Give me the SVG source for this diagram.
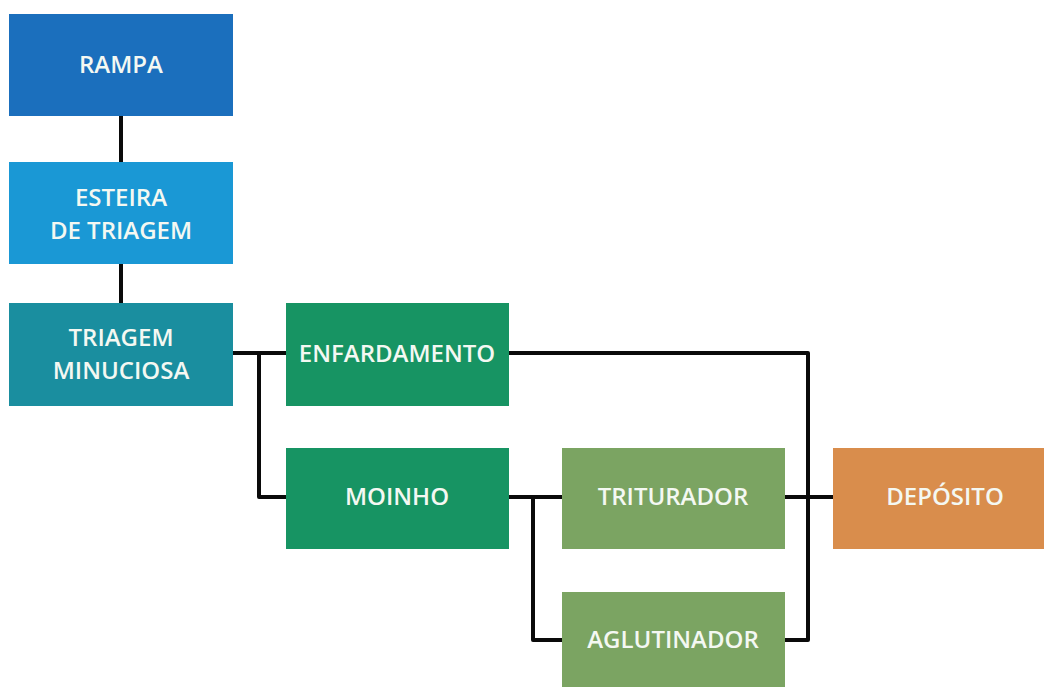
<svg xmlns="http://www.w3.org/2000/svg" width="1044" height="687" viewBox="0 0 1044 687">
<style>
.lbl{font-family:"Open Sans","Noto Sans","Liberation Sans",sans-serif;font-weight:600;font-size:24px;fill:#f4f8f2;text-anchor:middle}
.con{fill:none;stroke:#0a0a0a;stroke-width:4;stroke-linejoin:round}
</style>
<rect width="1044" height="687" fill="#ffffff"/>
<g id="connectors">
<path class="con" d="M121 116V162M121 264V303"/>
<path class="con" d="M233 353H286M259 353V497H286"/>
<path class="con" d="M509 353H808V640H785"/>
<path class="con" d="M509 497H562M533 497V640H562"/>
<path class="con" d="M785 497H833"/>
</g>
<g id="rampa"><rect x="9" y="14" width="224" height="102" fill="#1b6fbd"/><text class="lbl" x="121" y="73">RAMPA</text></g>
<g id="esteira"><rect x="9" y="162" width="224" height="102" fill="#1a98d5"/><text class="lbl" x="121" y="206">ESTEIRA</text><text class="lbl" x="121" y="239">DE TRIAGEM</text></g>
<g id="triagem"><rect x="9" y="303" width="224" height="103" fill="#1a8e9f"/><text class="lbl" x="121" y="346">TRIAGEM</text><text class="lbl" x="121" y="379">MINUCIOSA</text></g>
<g id="enfardamento"><rect x="286" y="303" width="223" height="103" fill="#179463"/><text class="lbl" x="397" y="362">ENFARDAMENTO</text></g>
<g id="moinho"><rect x="286" y="448" width="223" height="101" fill="#179463"/><text class="lbl" x="397" y="505">MOINHO</text></g>
<g id="triturador"><rect x="562" y="448" width="223" height="101" fill="#7ba462"/><text class="lbl" x="673" y="505">TRITURADOR</text></g>
<g id="aglutinador"><rect x="562" y="592" width="223" height="95" fill="#7ba462"/><text class="lbl" x="673" y="648">AGLUTINADOR</text></g>
<g id="deposito"><rect x="833" y="448" width="211" height="101" fill="#d98d4c"/><text class="lbl" x="945" y="505">DEPÓSITO</text></g>
</svg>
